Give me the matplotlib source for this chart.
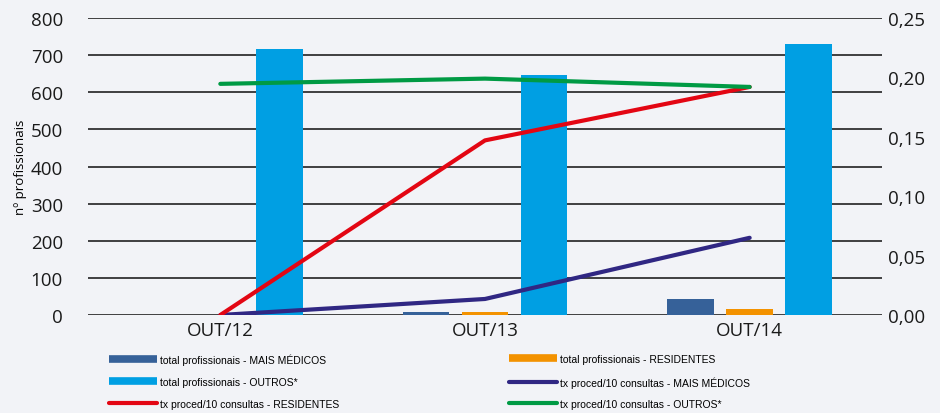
import matplotlib.pyplot as plt
from matplotlib.lines import Line2D
import numpy as np

categorias = ["OUT/12", "OUT/13", "OUT/14"]

# total profissionais (eixo esquerdo)
prof_mais_medicos = [0, 8, 42]
prof_residentes = [0, 8, 16]
prof_outros = [717, 647, 730]

# tx proced/10 consultas (eixo direito)
tx_mais_medicos = [0.0, 0.0135, 0.065]
tx_residentes = [0.0, 0.147, 0.192]
tx_outros = [0.1946, 0.199, 0.192]

y_left_ticks = [0, 100, 200, 300, 400, 500, 600, 700, 800]
y_right_ticks = [0.0, 0.05, 0.10, 0.15, 0.20, 0.25]

c_mm_bar = "#366199"
c_res_bar = "#F39200"
c_out_bar = "#009FE3"
c_mm_line = "#302783"
c_res_line = "#E30613"
c_out_line = "#009A44"
fundo = "#F2F3F7"

plt.rcParams['font.family'] = ['Open Sans', 'DejaVu Sans']

fig = plt.figure(figsize=(9.4, 4.14), dpi=100, facecolor=fundo)
ax = fig.add_axes([0.0936, 0.2367, 0.8447, 0.7173])
ax.set_facecolor(fundo)

x = np.arange(len(categorias))
w = 0.177
step = 0.223
ax.bar(x - step, prof_mais_medicos, w, color=c_mm_bar, zorder=3)
ax.bar(x, prof_residentes, w, color=c_res_bar, zorder=3)
ax.bar(x + step, prof_outros, w, color=c_out_bar, zorder=3)

ax.set_xlim(-0.5, 2.5)
ax.set_ylim(0, 800)
ax.set_yticks(y_left_ticks)
ax.set_xticks(x)
ax.set_xticklabels(categorias)
ax.grid(axis='y', color='#222222', linewidth=1.2, zorder=0)
ax.tick_params(axis='both', length=0, labelsize=13.5, colors='#1a1a1a')
ax.tick_params(axis='y', pad=18)
ax.tick_params(axis='x', pad=4)
for s in ax.spines.values():
    s.set_visible(False)
ax.set_ylabel("nº profissionais", fontsize=9.5, labelpad=3)

ax2 = ax.twinx()
ax2.set_ylim(0, 0.25)
ax2.set_yticks(y_right_ticks)
ax2.set_yticklabels([f"{v:.2f}".replace('.', ',') for v in y_right_ticks])
ax2.tick_params(axis='y', length=0, labelsize=13.5, colors='#1a1a1a', pad=4)
for s in ax2.spines.values():
    s.set_visible(False)

ax2.plot(x, tx_mais_medicos, color=c_mm_line, lw=3, solid_capstyle='round')
ax2.plot(x, tx_residentes, color=c_res_line, lw=3, solid_capstyle='round')
ax2.plot(x, tx_outros, color=c_out_line, lw=3, solid_capstyle='round')

# legenda: uma entrada por caixa, em grelha 2 x 3
def barra(c):
    return Line2D([], [], color=c, lw=5.5, solid_capstyle='butt')

def linha(c):
    return Line2D([], [], color=c, lw=3, solid_capstyle='round')

entradas = [
    (barra(c_mm_bar), "total profissionais - MAIS MÉDICOS", 0, 0),
    (barra(c_res_bar), "total profissionais - RESIDENTES", 1, 0),
    (barra(c_out_bar), "total profissionais - OUTROS*", 0, 1),
    (linha(c_mm_line), "tx proced/10 consultas - MAIS MÉDICOS", 1, 1),
    (linha(c_res_line), "tx proced/10 consultas - RESIDENTES", 0, 2),
    (linha(c_out_line), "tx proced/10 consultas - OUTROS*", 1, 2),
]
col_x = [0.116, 0.5415]
row_y = [0.1304, 0.0749, 0.0217]
for h, txt, c, r in entradas:
    fig.legend([h], [txt], loc='center left', bbox_to_anchor=(col_x[c], row_y[r]),
               frameon=False,
               prop={'family': ['Liberation Sans', 'DejaVu Sans'], 'size': 7.5},
               handlelength=4.6, handletextpad=0.3, borderpad=0, borderaxespad=0)

fig.savefig("out.png", dpi=100, facecolor=fundo)
